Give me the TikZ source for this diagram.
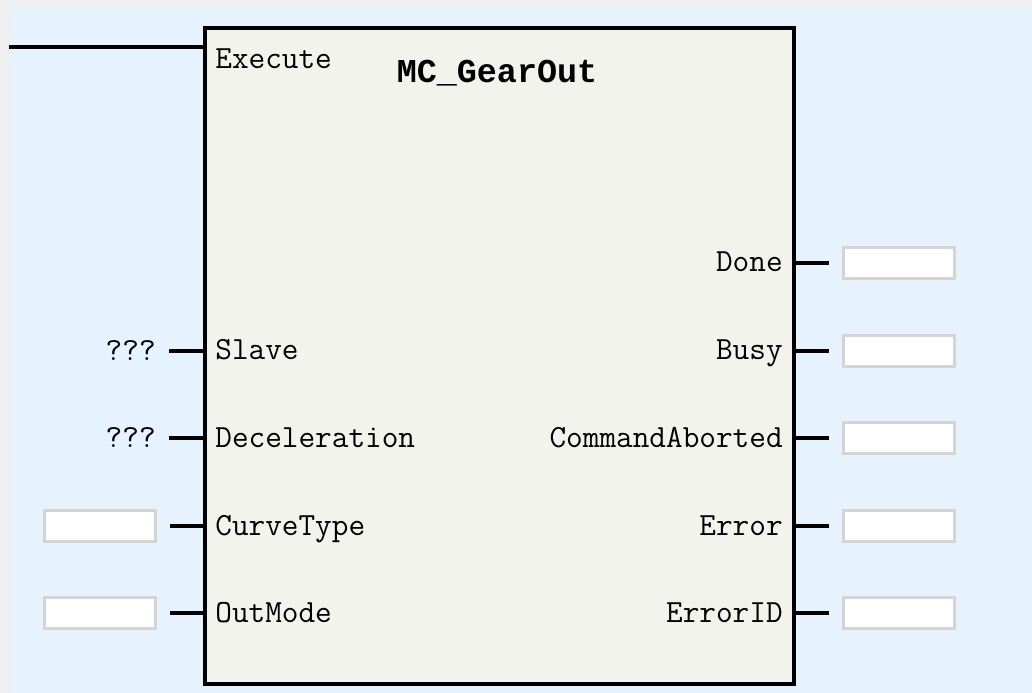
\documentclass[tikz,border=0pt]{standalone}
\usepackage{fontspec}
\newfontfamily\titlefont{Liberation Mono}
\usetikzlibrary{positioning}
\definecolor{panel}{HTML}{E6F3FE}
\definecolor{frame}{HTML}{EFEFEF}
\definecolor{blockfill}{HTML}{F3F3EE}
\definecolor{slotline}{HTML}{D4D4D0}
\tikzset{
    pinname/.style={font=\ttfamily\fontsize{18.4}{18.4}\selectfont,inner sep=0pt},
    valbox/.style={draw=slotline,line width=1.5pt,fill=white,minimum width=2.22cm,minimum height=.62cm,inner sep=0pt},
    wire/.style={line width=2pt,shorten >=.26cm},
}
\begin{document}
\begin{tikzpicture}[x=.02cm,y=-.02cm]
    \fill[frame] (0,0) rectangle (1032,693);
    \fill[panel] (9,7) rectangle (1032,693);
    \draw[line width=2pt,fill=blockfill] (205,28) rectangle (794,684); % function block
    \node[font=\titlefont\bfseries\fontsize{19}{19}\selectfont,inner sep=0pt,anchor=base] (title) at (497,82) {MC\_GearOut};
    % pins on the left edge
    \coordinate (exec-in) at (9,47);
    \coordinate (exec-pin) at (205,47);
    \coordinate (slave-pin) at (205,351);
    \coordinate (decel-pin) at (205,438);
    \coordinate (curve-pin) at (205,526);
    \coordinate (outmode-pin) at (205,613);
    % pins on the right edge
    \coordinate (done-pin) at (794,263);
    \coordinate (busy-pin) at (794,351);
    \coordinate (aborted-pin) at (794,438);
    \coordinate (error-pin) at (794,526);
    \coordinate (errorid-pin) at (794,613);
    % input names
    \node[pinname,anchor=base west] (exec) at (215,69) {Execute};
    \node[pinname,anchor=base west] (slave) at ([xshift=.2cm,yshift=-.18cm]slave-pin) {Slave};
    \node[pinname,anchor=base west] (decel) at ([xshift=.2cm,yshift=-.18cm]decel-pin) {Deceleration};
    \node[pinname,anchor=base west] (curve) at ([xshift=.2cm,yshift=-.18cm]curve-pin) {CurveType};
    \node[pinname,anchor=base west] (outmode) at ([xshift=.2cm,yshift=-.18cm]outmode-pin) {OutMode};
    % output names
    \node[pinname,anchor=base east] (done) at ([xshift=-.22cm,yshift=-.18cm]done-pin) {Done};
    \node[pinname,anchor=base east] (busy) at ([xshift=-.22cm,yshift=-.18cm]busy-pin) {Busy};
    \node[pinname,anchor=base east] (aborted) at ([xshift=-.22cm,yshift=-.18cm]aborted-pin) {CommandAborted};
    \node[pinname,anchor=base east] (error) at ([xshift=-.22cm,yshift=-.18cm]error-pin) {Error};
    \node[pinname,anchor=base east] (errorid) at ([xshift=-.22cm,yshift=-.18cm]errorid-pin) {ErrorID};
    % input values
    \node[pinname,left=.98cm of slave-pin] (slaveval) {???};
    \node[pinname,left=.98cm of decel-pin] (decelval) {???};
    \node[valbox,left=.96cm of curve-pin] (curveval) {};
    \node[valbox,left=.96cm of outmode-pin] (outmodeval) {};
    % output values
    \node[valbox,right=.96cm of done-pin] (doneval) {};
    \node[valbox,right=.96cm of busy-pin] (busyval) {};
    \node[valbox,right=.96cm of aborted-pin] (abortedval) {};
    \node[valbox,right=.96cm of error-pin] (errorval) {};
    \node[valbox,right=.96cm of errorid-pin] (erroridval) {};
    % wires
    \draw[line width=2pt] (exec-in) -- (exec-pin);
    \draw[wire] (slave-pin) -- (slaveval);
    \draw[wire] (decel-pin) -- (decelval);
    \draw[wire] (curve-pin) -- (curveval);
    \draw[wire] (outmode-pin) -- (outmodeval);
    \draw[wire] (done-pin) -- (doneval);
    \draw[wire] (busy-pin) -- (busyval);
    \draw[wire] (aborted-pin) -- (abortedval);
    \draw[wire] (error-pin) -- (errorval);
    \draw[wire] (errorid-pin) -- (erroridval);
\end{tikzpicture}
\end{document}
